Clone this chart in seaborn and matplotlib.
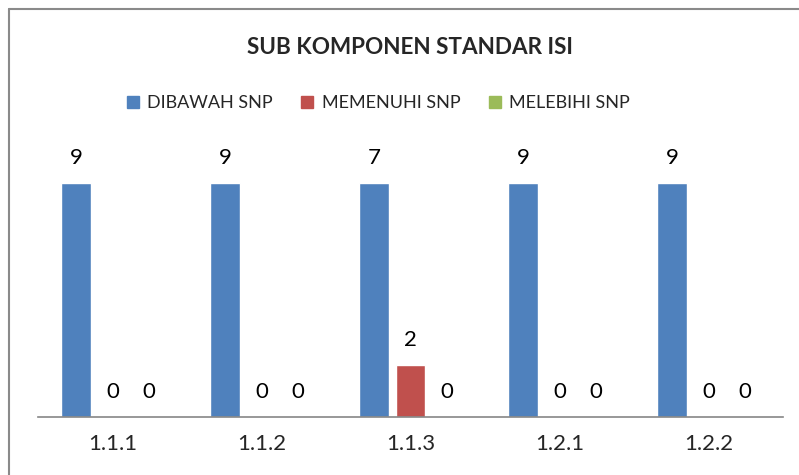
import pandas as pd
import matplotlib.pyplot as plt
import seaborn as sns
from matplotlib.lines import Line2D

# data
kategori = ['1.1.1', '1.1.2', '1.1.3', '1.2.1', '1.2.2']
seri = ['DIBAWAH SNP', 'MEMENUHI SNP', 'MELEBIHI SNP']
# tinggi batang seperti tergambar (batang 1.1.3 digambar setinggi 9, labelnya 7)
dibawah = [9, 9, 9, 9, 9]
memenuhi = [0, 0, 2, 0, 0]
melebihi = [0, 0, 0, 0, 0]
label_dibawah = ['9', '9', '7', '9', '9']
label_memenuhi = ['0', '0', '2', '0', '0']
label_melebihi = ['0', '0', '0', '0', '0']
warna = ['#4F81BD', '#C0504D', '#9BBB59']

df = pd.DataFrame({
    'Kategori': kategori * 3,
    'Seri': [seri[0]] * 5 + [seri[1]] * 5 + [seri[2]] * 5,
    'Nilai': dibawah + memenuhi + melebihi,
})

sns.set_style('white')
plt.rcParams['font.family'] = ['Lato', 'DejaVu Sans']

fig = plt.figure(figsize=(7.99, 4.75), dpi=100)
ax = fig.add_axes([38/799, 1 - 417/475, 745/799, 260/475])

sns.barplot(data=df, x='Kategori', y='Nilai', hue='Seri', hue_order=seri,
            palette=warna, width=0.735, gap=0.2, saturation=1, ax=ax,
            legend=False)

for c, lab in zip(ax.containers, [label_dibawah, label_memenuhi, label_melebihi]):
    ax.bar_label(c, labels=lab, padding=11, fontsize=16, color='black')

ax.set_ylim(0, 10)
ax.set_xlim(-0.5, 4.5)
ax.set_xlabel('')
ax.set_ylabel('')
ax.set_yticks([])
for s in ['top', 'right', 'left']:
    ax.spines[s].set_visible(False)
ax.spines['bottom'].set_color('#868686')
ax.spines['bottom'].set_linewidth(1.2)
ax.tick_params(axis='x', length=0, pad=12, labelsize=16)

# judul dan legenda
fig.text(410/799, 1 - 47/475, 'SUB KOMPONEN STANDAR ISI', ha='center', va='center',
         fontsize=16.2, fontweight='bold')
handles = [Line2D([], [], marker='s', linestyle='', markersize=9,
                  markerfacecolor=w, markeredgecolor=w) for w in warna]
fig.legend(handles, seri, loc='center', bbox_to_anchor=(377/799, 1 - 103/475),
           ncol=3, frameon=False, fontsize=13, handletextpad=0.3,
           columnspacing=1.4, handlelength=1.0)

# bingkai
fig.add_artist(Line2D([9/799, 1], [1 - 9/475, 1 - 9/475], color='#8a8a8a', lw=1.5))
fig.add_artist(Line2D([9/799, 9/799], [0, 1 - 9/475], color='#8a8a8a', lw=1.5))

fig.savefig('out.png', dpi=100)
